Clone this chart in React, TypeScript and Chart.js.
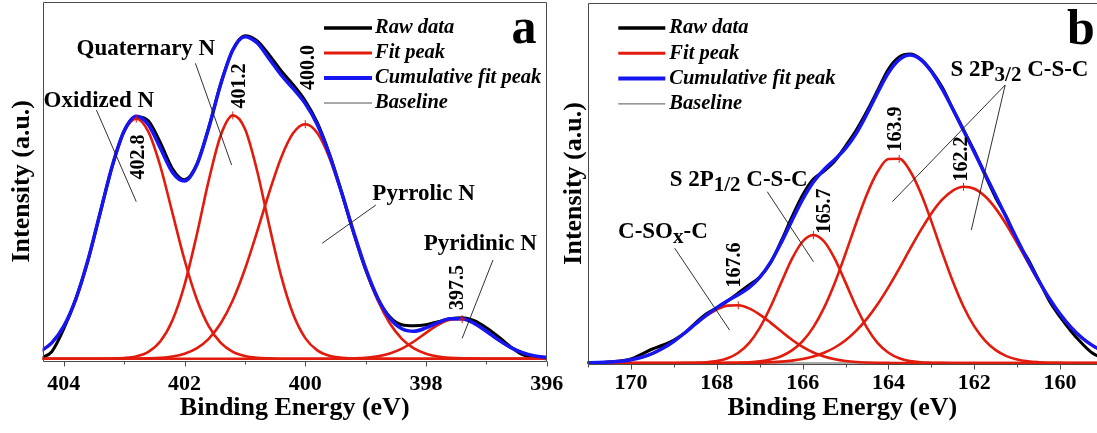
import React, { useEffect, useRef } from "react";
import { Chart, registerables } from "chart.js";

Chart.register(...registerables);

const FONT = "'Liberation Serif', 'Times New Roman', serif";
const RED = "#e21b0d";
const BLUE = "#1616f2";
const BLACK = "#000000";
const GRAY = "#555555";

// ---------------- Panel a : N 1s ----------------
const energyA = [404.4, 404.2, 404.0, 403.8, 403.6, 403.4, 403.2, 403.0, 402.8, 402.6, 402.4, 402.2, 402.0, 401.8, 401.6, 401.4, 401.2, 401.0, 400.8, 400.6, 400.4, 400.2, 400.0, 399.8, 399.6, 399.4, 399.2, 399.0, 398.8, 398.6, 398.4, 398.2, 398.0, 397.8, 397.6, 397.4, 397.2, 397.0, 396.8, 396.6, 396.4, 396.2, 396.0];
const rawA = [0, 7, 30, 60, 98, 145, 192, 228, 242, 238, 216, 190, 179, 194, 231, 275, 309, 323, 318, 304, 288, 274, 258, 236, 205, 167, 126, 89, 60, 42, 34, 33, 34, 37, 40, 41, 38, 31, 22, 12, 4, 1, 0];
const cumA = [6.9, 15.8, 32.5, 59.9, 98.7, 145.6, 192.3, 227.7, 242.4, 234.1, 210.5, 186.3, 177.6, 193.4, 230.5, 274.7, 308.7, 322.0, 315.9, 300.1, 283.8, 270.0, 255.1, 233.9, 203.9, 166.6, 127.0, 90.3, 60.8, 40.6, 30.0, 27.5, 30.8, 36.1, 40.0, 39.9, 35.3, 27.5, 18.8, 11.3, 6.0, 2.8, 1.1];
const fitA1 = [6.9, 15.8, 32.5, 59.9, 98.7, 145.6, 192.2, 227.0, 240.0, 227.0, 192.2, 145.6, 98.7, 59.9, 32.5, 15.8, 6.9, 2.7, 0.9, 0.3, 0, 0, 0, 0, 0, 0, 0, 0, 0, 0, 0, 0, 0, 0, 0, 0, 0, 0, 0, 0, 0, 0, 0];
const fitA2 = [0, 0, 0, 0, 0, 0, 0.1, 0.7, 2.3, 6.8, 17.4, 38.5, 73.9, 123.2, 178.1, 223.5, 243.3, 229.9, 188.5, 134.1, 82.8, 44.4, 20.6, 8.3, 2.9, 0.9, 0.2, 0, 0, 0, 0, 0, 0, 0, 0, 0, 0, 0, 0, 0, 0, 0, 0];
const fitA3 = [0, 0, 0, 0, 0, 0, 0, 0, 0.1, 0.3, 0.9, 2.2, 5.0, 10.3, 19.9, 35.4, 58.5, 89.4, 126.5, 165.7, 201.0, 225.6, 234.5, 225.6, 201.0, 165.7, 126.5, 89.4, 58.5, 35.4, 19.9, 10.3, 5.0, 2.2, 0.9, 0.3, 0.1, 0, 0, 0, 0, 0, 0];
const fitA4 = [0, 0, 0, 0, 0, 0, 0, 0, 0, 0, 0, 0, 0, 0, 0, 0, 0, 0, 0, 0, 0, 0, 0, 0, 0, 0, 0.3, 0.9, 2.3, 5.2, 10.1, 17.2, 25.8, 33.9, 39.1, 39.6, 35.2, 27.5, 18.8, 11.3, 6.0, 2.8, 1.1];
const baselineEnergyA = [404.4, 396.0];
const baselineA = [0, 0];
const ticksA = [404, 402, 400, 398, 396];

// ---------------- Panel b : S 2p ----------------
const energyB = [171.25, 171.0, 170.75, 170.5, 170.25, 170.0, 169.75, 169.5, 169.25, 169.0, 168.75, 168.5, 168.25, 168.0, 167.75, 167.5, 167.25, 167.0, 166.75, 166.5, 166.25, 166.0, 165.75, 165.5, 165.25, 165.0, 164.75, 164.5, 164.25, 164.0, 163.75, 163.5, 163.25, 163.0, 162.75, 162.5, 162.25, 162.0, 161.75, 161.5, 161.25, 161.0, 160.75, 160.5, 160.25, 160.0, 159.75, 159.5, 159.25, 159.0];
const rawB = [0, 0.5, 0.5, 1, 2, 4, 9, 14, 18, 23, 30, 40, 49, 55, 62, 70, 78, 86, 100, 122, 146, 168, 184, 192, 202, 217, 233, 252, 273, 294, 306, 309, 304, 292, 276, 254, 233, 212, 188, 165, 146, 121, 104, 83, 62, 46, 32, 20, 10, 5];
const cumB = [0.1, 0.2, 0.4, 0.9, 1.7, 3.3, 5.8, 9.5, 14.9, 21.8, 30.0, 39.0, 47.7, 55.4, 62.3, 68.3, 75.4, 85.6, 100.6, 120.3, 142.4, 163.5, 180.9, 193.5, 203.6, 214.6, 229.6, 249.2, 270.6, 290.2, 303.3, 308.0, 303.5, 291.5, 274.0, 253.9, 232.5, 210.9, 189.1, 167.3, 145.2, 123.4, 102.3, 82.5, 64.5, 48.9, 35.9, 25.5, 17.6, 11.7];
const fitB1 = [0.1, 0.2, 0.4, 0.9, 1.7, 3.3, 5.8, 9.5, 14.9, 21.8, 29.9, 38.7, 47.0, 53.5, 57.4, 57.7, 54.6, 48.4, 40.4, 31.7, 23.3, 16.1, 10.5, 6.4, 3.7, 2.0, 1.0, 0.5, 0.2, 0.1, 0, 0, 0, 0, 0, 0, 0, 0, 0, 0, 0, 0, 0, 0, 0, 0, 0, 0, 0, 0];
const fitB2 = [0, 0, 0, 0, 0, 0, 0, 0, 0, 0, 0.1, 0.3, 0.7, 1.9, 4.7, 10.2, 19.9, 35.2, 56.0, 80.4, 104.1, 121.5, 128.0, 121.5, 104.1, 80.4, 56.0, 35.2, 19.9, 10.2, 4.7, 1.9, 0.7, 0.3, 0.1, 0, 0, 0, 0, 0, 0, 0, 0, 0, 0, 0, 0, 0, 0, 0];
const fitB3 = [0, 0, 0, 0, 0, 0, 0, 0, 0, 0, 0, 0, 0, 0, 0.1, 0.3, 0.7, 1.6, 3.4, 6.8, 12.6, 21.9, 35.9, 55.4, 80.3, 109.5, 140.3, 169.1, 191.5, 204.0, 204.2, 192.3, 170.2, 141.6, 110.7, 81.5, 56.3, 36.6, 22.4, 12.9, 6.9, 3.5, 1.7, 0.8, 0.3, 0.1, 0, 0, 0, 0];
const fitB4 = [0, 0, 0, 0, 0, 0, 0, 0, 0, 0, 0, 0, 0, 0, 0.1, 0.1, 0.2, 0.4, 0.8, 1.4, 2.4, 4.0, 6.5, 10.2, 15.5, 22.7, 32.3, 44.4, 59.0, 75.9, 94.4, 113.8, 132.6, 149.6, 163.3, 172.4, 176.2, 174.3, 166.7, 154.4, 138.3, 119.9, 100.6, 81.7, 64.2, 48.8, 35.9, 25.5, 17.6, 11.7];
const baselineEnergyB = [171.25, 159.0];
const baselineB = [0, 0];
const ticksB = [170, 168, 166, 164, 162, 160];

const legendLabels = ["Raw data", "Fit peak", "Cumulative fit peak", "Baseline"];

// annotations, in data coordinates (energy, intensity)
const annotationsA = [
  { type: "text", text: "Oxidized N", x: 403.42, y: 257.7 },
  { type: "line", x1: 403.46, y1: 248.7, x2: 402.8, y2: 157 },
  { type: "vtext", text: "402.8", x: 402.76, y: 201.7 },
  { type: "text", text: "Quaternary N", x: 402.64, y: 309.7 },
  { type: "line", x1: 401.82, y1: 295.4, x2: 401.22, y2: 193.7 },
  { type: "vtext", text: "401.2", x: 401.09, y: 272.7 },
  { type: "vtext", text: "400.0", x: 399.94, y: 291.2 },
  { type: "text", text: "Pyrrolic N", x: 398.04, y: 164.7 },
  { type: "line", x1: 398.83, y1: 153.7, x2: 399.72, y2: 115.4 },
  { type: "text", text: "Pyridinic N", x: 397.1, y: 114.7 },
  { type: "line", x1: 396.89, y1: 98.7, x2: 397.4, y2: 20.4 },
  { type: "vtext", text: "397.5", x: 397.48, y: 71.2 },
];
const annotationsB = [
  { type: "rich", parts: [["S 2P", 0], ["3/2", 1], [" C-S-C", 0]], x: 162.555, y: 293 },
  { type: "line", x1: 161.28, y1: 278, x2: 163.91, y2: 161.3 },
  { type: "line", x1: 161.28, y1: 278, x2: 162.07, y2: 133 },
  { type: "vtext", text: "162.2", x: 162.29, y: 204 },
  { type: "vtext", text: "163.9", x: 163.84, y: 234 },
  { type: "rich", parts: [["S 2P", 0], ["1/2", 1], [" C-S-C", 0]], x: 169.1, y: 183 },
  { type: "line", x1: 166.825, y1: 171.3, x2: 165.748, y2: 101.3 },
  { type: "vtext", text: "165.7", x: 165.478, y: 152 },
  { type: "rich", parts: [["C-SO", 0], ["x", 1], ["-C", 0]], x: 170.303, y: 131 },
  { type: "line", x1: 168.981, y1: 114.7, x2: 167.704, y2: 33 },
  { type: "vtext", text: "167.6", x: 167.575, y: 98 },
];

const pts = (xs: number[], ys: number[]) => xs.map((v, i) => ({ x: v, y: ys[i] }));

const decorPlugin = {
  id: "decor",
  afterDatasetsDraw(chart: any, _args: any, o: any) {
    const { ctx, chartArea: ca } = chart;
    const xs = chart.scales.x;
    const ys = chart.scales.y;
    const X = (v: number) => xs.getPixelForValue(v);
    const Y = (v: number) => ys.getPixelForValue(v);
    ctx.save();

    // small peak markers on fitted peaks
    chart.data.datasets.forEach((ds: any) => {
      if (ds.label !== "Fit peak") return;
      let best = ds.data[0];
      ds.data.forEach((p: any) => {
        if (p.y > best.y) best = p;
      });
      const px = X(best.x);
      const py = Y(best.y);
      ctx.strokeStyle = ds.borderColor;
      ctx.lineWidth = 1;
      ctx.beginPath();
      ctx.moveTo(px - 3, py);
      ctx.lineTo(px + 3, py);
      ctx.moveTo(px, py - 4);
      ctx.lineTo(px, py + 4);
      ctx.stroke();
    });

    // frame
    ctx.strokeStyle = "#4a4a4a";
    ctx.lineWidth = 1;
    const L = Math.round(ca.left) + 0.5;
    const T = Math.round(ca.top) + 0.5;
    const B = Math.round(ca.bottom) + 0.5;
    const R = Math.round(ca.right) - 0.5;
    ctx.beginPath();
    ctx.moveTo(L, B);
    ctx.lineTo(L, T);
    ctx.lineTo(o.rightBorder ? R : ca.right, T);
    if (o.rightBorder) ctx.lineTo(R, B);
    ctx.moveTo(L, B);
    ctx.lineTo(ca.right, B);
    ctx.stroke();

    // tick marks (major on labelled values, minor between)
    ctx.beginPath();
    xs.ticks.forEach((t: any) => {
      const px = Math.round(X(t.value)) + 0.5;
      const major = o.majorTicks.indexOf(t.value) >= 0;
      ctx.moveTo(px, B);
      ctx.lineTo(px, B + (major ? 5 : 3));
    });
    ctx.stroke();

    // annotations
    ctx.fillStyle = "#000";
    o.annotations.forEach((a: any) => {
      if (a.type === "line") {
        ctx.strokeStyle = "#1a1a1a";
        ctx.lineWidth = 0.9;
        ctx.beginPath();
        ctx.moveTo(X(a.x1), Y(a.y1));
        ctx.lineTo(X(a.x2), Y(a.y2));
        ctx.stroke();
      } else if (a.type === "text") {
        ctx.font = `bold 23px ${FONT}`;
        ctx.textAlign = "center";
        ctx.textBaseline = "middle";
        ctx.fillText(a.text, X(a.x), Y(a.y));
      } else if (a.type === "vtext") {
        ctx.save();
        ctx.translate(X(a.x), Y(a.y));
        ctx.rotate(-Math.PI / 2);
        ctx.font = `bold 20px ${FONT}`;
        ctx.textAlign = "center";
        ctx.textBaseline = "middle";
        ctx.fillText(a.text, 0, 0);
        ctx.restore();
      } else if (a.type === "rich") {
        let cx = X(a.x);
        const cy = Y(a.y);
        ctx.textAlign = "left";
        ctx.textBaseline = "middle";
        a.parts.forEach((p: any) => {
          ctx.font = p[1] ? `bold 21px ${FONT}` : `bold 23px ${FONT}`;
          ctx.fillText(p[0], cx, cy + (p[1] ? 6 : 0));
          cx += ctx.measureText(p[0]).width;
        });
      }
    });

    // legend
    const lg = o.legend;
    legendLabels.forEach((label, i) => {
      const ds = chart.data.datasets.find((d: any) => d.label === label);
      const y = lg.y + i * lg.rowH;
      ctx.strokeStyle = ds.borderColor;
      ctx.lineWidth = ds.legendWidth || ds.borderWidth;
      ctx.beginPath();
      ctx.moveTo(lg.x, y);
      ctx.lineTo(lg.x + lg.lineLen, y);
      ctx.stroke();
      ctx.fillStyle = "#000";
      ctx.font = `italic bold 20.5px ${FONT}`;
      ctx.textAlign = "left";
      ctx.textBaseline = "middle";
      ctx.fillText(label, lg.x + lg.lineLen + lg.gap, y);
    });

    // panel letter
    ctx.fillStyle = "#000";
    ctx.font = `bold 50px ${FONT}`;
    ctx.textAlign = "center";
    ctx.textBaseline = "alphabetic";
    ctx.fillText(o.letter.text, o.letter.x, o.letter.y);

    ctx.restore();
  },
};

function buildDatasets(energy: number[], raw: number[], cum: number[], fits: number[][], bE: number[], b: number[]) {
  const common = { pointRadius: 0, fill: false, cubicInterpolationMode: "monotone" as const };
  return [
    { ...common, label: "Cumulative fit peak", data: pts(energy, cum), borderColor: BLUE, borderWidth: 3.5, legendWidth: 4, order: 1 },
    ...fits.map((f) => ({ ...common, label: "Fit peak", data: pts(energy, f), borderColor: RED, borderWidth: 2.6, legendWidth: 3, order: 2 })),
    { ...common, label: "Raw data", data: pts(energy, raw), borderColor: BLACK, borderWidth: 3, legendWidth: 3.5, order: 3 },
    { ...common, label: "Baseline", data: pts(bE, b), borderColor: GRAY, borderWidth: 1, legendWidth: 1, order: 4 },
  ];
}

function makeConfig(p: any) {
  return {
    type: "line",
    data: { datasets: p.datasets },
    plugins: [decorPlugin],
    options: {
      responsive: false,
      animation: false,
      devicePixelRatio: 1,
      events: [],
      layout: { padding: p.padding },
      plugins: {
        legend: { display: false },
        tooltip: { enabled: false },
        decor: {
          annotations: p.annotations,
          legend: p.legend,
          letter: p.letter,
          rightBorder: p.rightBorder,
          majorTicks: p.majorTicks,
        },
      },
      scales: {
        x: {
          type: "linear",
          reverse: true,
          min: p.xMin,
          max: p.xMax,
          afterFit: (s: any) => {
            s.height = p.xHeight;
          },
          grid: { display: false, drawTicks: false },
          border: { display: false },
          ticks: {
            stepSize: 1,
            autoSkip: false,
            maxRotation: 0,
            minRotation: 0,
            includeBounds: false,
            padding: p.tickPad,
            color: "#000",
            font: { family: FONT, size: 22, weight: "bold" },
            callback: (v: any) => (p.majorTicks.indexOf(v) >= 0 ? String(v) : ""),
          },
          title: {
            display: true,
            text: "Binding Energy (eV)",
            color: "#000",
            font: { family: FONT, size: 26, weight: "bold", lineHeight: 1 },
            padding: { top: 0, bottom: 12 },
          },
        },
        y: {
          type: "linear",
          min: p.yMin,
          max: p.yMax,
          afterFit: (s: any) => {
            s.width = p.yWidth;
          },
          grid: { display: false, drawTicks: false },
          border: { display: false },
          ticks: { display: false },
          title: {
            display: true,
            text: "Intensity (a.u.)",
            color: "#000",
            font: { family: FONT, size: 26, weight: "bold", lineHeight: 1 },
            padding: { top: p.yTitlePad, bottom: 0 },
          },
        },
      },
    },
  };
}

export default function App() {
  const refA = useRef<HTMLCanvasElement>(null);
  const refB = useRef<HTMLCanvasElement>(null);

  useEffect(() => {
    const chartA = new Chart(
      refA.current as any,
      makeConfig({
        datasets: buildDatasets(energyA, rawA, cumA, [fitA1, fitA2, fitA3, fitA4], baselineEnergyA, baselineA),
        padding: { left: 0, top: 2, right: 33.3, bottom: 0 },
        xMin: 396,
        xMax: 404.35,
        yMin: -1.8,
        yMax: 356.7,
        xHeight: 72.5,
        yWidth: 42.7,
        tickPad: 10.3,
        yTitlePad: 9,
        majorTicks: ticksA,
        annotations: annotationsA,
        legend: { x: 324, y: 28, rowH: 25, lineLen: 48, gap: 3 },
        letter: { text: "a", x: 524, y: 43 },
        rightBorder: true,
      }) as any
    );
    const chartB = new Chart(
      refB.current as any,
      makeConfig({
        datasets: buildDatasets(energyB, rawB, cumB, [fitB1, fitB2, fitB3, fitB4], baselineEnergyB, baselineB),
        padding: { left: 0, top: 2.5, right: 0, bottom: 0 },
        xMin: 159.14,
        xMax: 171.01,
        yMin: -1.3,
        yMax: 360.5,
        xHeight: 68.7,
        yWidth: 27.7,
        tickPad: 6,
        yTitlePad: 1,
        majorTicks: ticksB,
        annotations: annotationsB,
        legend: { x: 58.3, y: 28, rowH: 25.3, lineLen: 47, gap: 4 },
        letter: { text: "b", x: 521, y: 44 },
        rightBorder: false,
      }) as any
    );
    return () => {
      chartA.destroy();
      chartB.destroy();
    };
  }, []);

  return (
    <div style={{ position: "absolute", left: 0, top: 0, width: 1097, height: 433, background: "#fff", overflow: "hidden" }}>
      <canvas ref={refA} width={580} height={433} style={{ position: "absolute", left: 0, top: 0, width: 580, height: 433 }} />
      <canvas ref={refB} width={537} height={433} style={{ position: "absolute", left: 560, top: 0, width: 537, height: 433 }} />
    </div>
  );
}
